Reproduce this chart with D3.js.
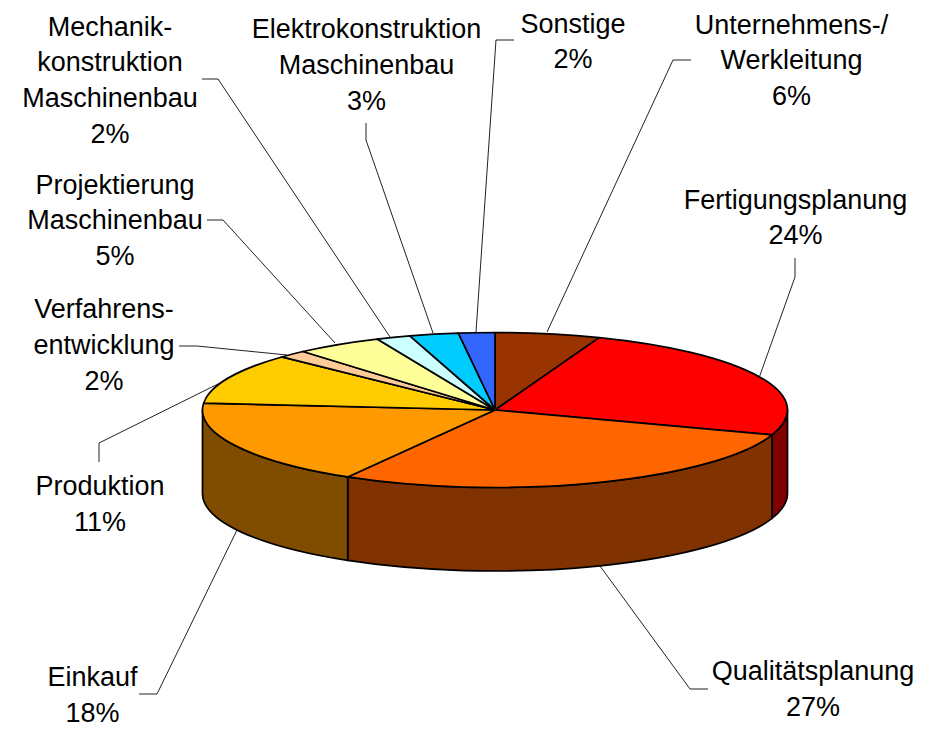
<!DOCTYPE html>
<html><head><meta charset="utf-8">
<script src="https://cdn.jsdelivr.net/npm/d3@7"></script>
<style>html,body{margin:0;padding:0;background:#fff}svg{display:block}</style></head>
<body><div id="chart"></div>
<script>
const categories = ["Unternehmens-/ Werkleitung","Fertigungsplanung","Qualitätsplanung","Einkauf","Produktion","Verfahrensentwicklung","Projektierung Maschinenbau","Mechanikkonstruktion Maschinenbau","Elektrokonstruktion Maschinenbau","Sonstige"];
const sliceShares = [5.8,24.4,28.2,18,10.6,1.6,4.8,1.9,2.7,2.0];
const printedPercent = [6,24,27,18,11,2,5,2,3,2];
const topColors = ["#993300","#FF0000","#FF6600","#FF9900","#FFCC00","#FFCC99","#FFFF99","#CCFFFF","#00CCFF","#3366FF"];

const labelLines = [["Unternehmens-/","Werkleitung"],["Fertigungsplanung"],["Qualitätsplanung"],["Einkauf"],["Produktion"],["Verfahrens-","entwicklung"],["Projektierung","Maschinenbau"],["Mechanik-","konstruktion","Maschinenbau"],["Elektrokonstruktion","Maschinenbau"],["Sonstige"]];
const labelAnchor = [[791.5,33.5],[795.5,208.5],[813,680],[92.5,686],[100,495],[104,318],[115,193.5],[110,35.5],[366.5,38],[573,32.5]];
const leaderPaths = [
 [[691,60],[673,60],[547,332]],
 [[795,258],[795,277],[759,378]],
 [[708,689],[690,689],[600,566]],
 [[139,694],[157,694],[237,530]],
 [[99,462],[99,443],[220,383]],
 [[179,346],[197,346],[287,355]],
 [[207,220],[223,220],[335,343]],
 [[202,79],[218,79],[390,337]],
 [[366,123],[366,140],[433,333]],
 [[514,40],[496,40],[476,332]]
];

const W=932,H=731,cx=495,cy=410,rx=292.5,ry=77.5,depth=83.5,lh=35.8;
const svg=d3.select("#chart").append("svg").attr("width",W).attr("height",H);
const pie=d3.pie().sort(null).value(d=>d)(sliceShares);
const px=a=>cx+rx*Math.sin(a), py=a=>cy-ry*Math.cos(a);
const halfTone=hex=>{const c=d3.rgb(hex);return d3.rgb(c.r/2,c.g/2,c.b/2).formatHex();};

// leader lines
svg.append("g").selectAll("path").data(leaderPaths).join("path")
 .attr("d",d3.line()).attr("fill","none").attr("stroke","#222").attr("stroke-width",1);

// side wall: only the front half of the rim (angles pi/2 .. 3pi/2) is visible
const visible=pie.map((s,i)=>({i,a0:Math.max(s.startAngle,Math.PI/2),a1:Math.min(s.endAngle,3*Math.PI/2)})).filter(s=>s.a1>s.a0);
svg.append("g").selectAll("path").data(visible).join("path")
 .attr("d",s=>{
   const A=s.a0,B=s.a1;
   return `M${px(A)},${py(A)}A${rx},${ry} 0 0 1 ${px(B)},${py(B)}L${px(B)},${py(B)+depth}A${rx},${ry} 0 0 0 ${px(A)},${py(A)+depth}Z`;
 })
 .attr("fill",s=>halfTone(topColors[s.i]))
 .attr("stroke","#000").attr("stroke-width",1.7).attr("stroke-linejoin","round");

// top face
const arc=d3.arc().innerRadius(0).outerRadius(rx);
svg.append("g").attr("transform",`translate(${cx},${cy}) scale(1,${ry/rx})`)
 .selectAll("path").data(pie).join("path")
 .attr("d",arc).attr("fill",(d,i)=>topColors[i])
 .attr("stroke","#000").attr("stroke-width",1.7).attr("stroke-linejoin","round")
 .attr("vector-effect","non-scaling-stroke");

// labels
const t=svg.append("g").attr("font-family","'Liberation Sans',Arial,sans-serif").attr("font-size",27).attr("fill","#000").attr("text-anchor","middle");
categories.forEach((c,i)=>{
  const lines=[...labelLines[i],printedPercent[i]+"%"];
  const tx=t.append("text").attr("x",labelAnchor[i][0]).attr("y",labelAnchor[i][1]);
  lines.forEach((l,k)=>tx.append("tspan").attr("x",labelAnchor[i][0]).attr("y",labelAnchor[i][1]+k*lh).text(l));
});
</script></body></html>
